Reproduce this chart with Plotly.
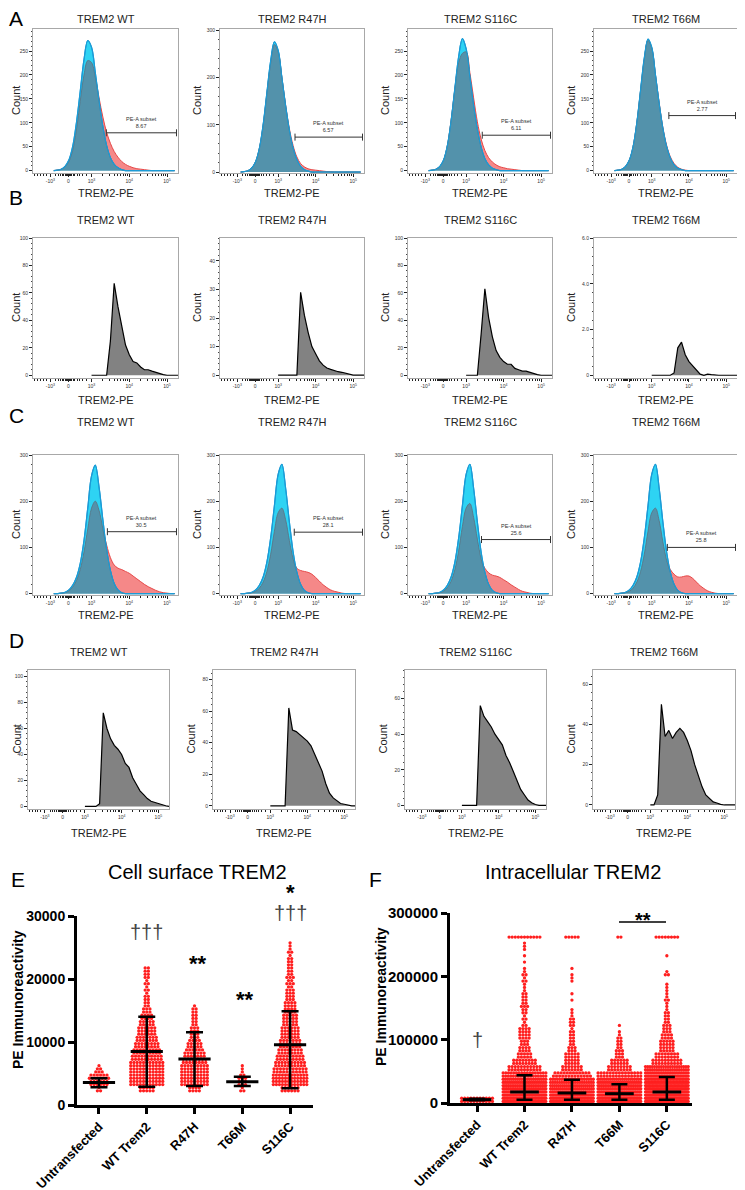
import math
import plotly.graph_objects as go

W, H = 745, 1190
OFF = 8  # the page body margin places the figure 8 px right and down
FONT = "Liberation Sans, Arial, sans-serif"

titles = ["TREM2 WT", "TREM2 R47H", "TREM2 S116C", "TREM2 T66M"]

# Flow histograms: x is in biexponential display units (10^3 -> 1, 10^4 -> 2, 10^5 -> 3)
flow_tickvals = [-0.09, 0.39, 1, 2, 3]
flow_ticktext = ["-10<sup>3</sup>", "0", "10<sup>3</sup>", "10<sup>4</sup>", "10<sup>5</sup>"]

grid_ac = [0.0, 0.1, 0.2, 0.3, 0.4, 0.5, 0.6, 0.7, 0.8, 0.9, 1.0, 1.1, 1.2, 1.3, 1.4, 1.5, 1.6,
           1.7, 1.8, 1.9, 2.0, 2.1, 2.2, 2.3, 2.4, 2.5, 2.6, 2.7, 2.8, 2.9, 3.0, 3.1, 3.2]

# A: cell surface staining (cyan = untransfected, red = transfected)
a_wt_blue = [0, 1, 3, 9, 22, 50, 100, 165, 232, 272, 258, 205, 145, 92, 52, 27, 13, 6, 2, 0,
             0, 0, 0, 0, 0, 0, 0, 0, 0, 0, 0, 0, 0]
a_wt_red = [0, 1, 3, 8, 19, 42, 85, 145, 200, 230, 226, 195, 152, 112, 80, 57, 40, 28, 19, 13,
            9, 6, 4, 3, 2, 1, 0, 0, 0, 0, 0, 0, 0]
a_r47h_blue = [0, 1, 3, 9, 22, 50, 100, 168, 235, 276, 258, 200, 140, 88, 50, 26, 12, 5, 2, 0,
               0, 0, 0, 0, 0, 0, 0, 0, 0, 0, 0, 0, 0]
a_r47h_red = [0, 1, 3, 9, 22, 50, 98, 165, 230, 270, 255, 200, 142, 92, 56, 32, 18, 11, 7, 5,
              4, 3, 2, 1, 1, 0, 0, 0, 0, 0, 0, 0, 0]
a_s116c_blue = [0, 1, 3, 9, 22, 52, 104, 172, 238, 276, 255, 196, 136, 86, 49, 25, 12, 5, 2, 0,
                0, 0, 0, 0, 0, 0, 0, 0, 0, 0, 0, 0, 0]
a_s116c_red = [0, 1, 3, 9, 22, 52, 105, 170, 225, 245, 248, 205, 152, 102, 66, 42, 27, 18, 12, 8,
               6, 4, 3, 2, 1, 0, 0, 0, 0, 0, 0, 0, 0]
a_t66m_blue = [0, 1, 3, 9, 22, 50, 100, 168, 235, 275, 258, 200, 140, 88, 50, 26, 12, 5, 2, 0,
               0, 0, 0, 0, 0, 0, 0, 0, 0, 0, 0, 0, 0]
a_t66m_red = [0, 1, 3, 9, 22, 50, 100, 166, 232, 272, 256, 200, 142, 90, 53, 29, 15, 7, 3, 1,
              0, 0, 0, 0, 0, 0, 0, 0, 0, 0, 0, 0, 0]

# C: intracellular staining
c_wt_blue = [0, 0, 1, 3, 8, 18, 35, 65, 115, 185, 255, 278, 230, 160, 95, 50, 22, 8, 2, 0,
             0, 0, 0, 0, 0, 0, 0, 0, 0, 0, 0, 0, 0]
c_wt_red = [0, 0, 1, 2, 6, 14, 28, 52, 90, 140, 185, 200, 180, 140, 105, 78, 62, 55, 52, 48,
            44, 38, 32, 26, 20, 15, 11, 7, 4, 2, 1, 0, 0]
c_r47h_blue = [0, 0, 1, 3, 8, 18, 36, 68, 120, 190, 258, 280, 228, 155, 90, 46, 20, 7, 2, 0,
               0, 0, 0, 0, 0, 0, 0, 0, 0, 0, 0, 0, 0]
c_r47h_red = [0, 0, 1, 2, 5, 12, 25, 48, 85, 135, 175, 185, 160, 115, 75, 55, 50, 48, 46, 42,
              35, 27, 19, 13, 8, 5, 3, 1, 0, 0, 0, 0, 0]
c_s116c_blue = [0, 0, 1, 3, 8, 18, 36, 68, 120, 190, 258, 280, 228, 155, 90, 46, 20, 7, 2, 0,
                0, 0, 0, 0, 0, 0, 0, 0, 0, 0, 0, 0, 0]
c_s116c_red = [0, 0, 1, 2, 5, 13, 27, 52, 92, 145, 185, 195, 165, 118, 75, 55, 45, 40, 38, 35,
               30, 25, 19, 14, 9, 5, 3, 1, 0, 0, 0, 0, 0]
c_t66m_blue = [0, 0, 1, 3, 8, 18, 36, 68, 120, 190, 258, 280, 228, 155, 90, 46, 20, 7, 2, 0,
               0, 0, 0, 0, 0, 0, 0, 0, 0, 0, 0, 0, 0]
c_t66m_red = [0, 0, 1, 2, 5, 12, 25, 48, 85, 135, 175, 185, 158, 112, 72, 52, 42, 36, 36, 38,
              38, 33, 25, 17, 11, 6, 3, 1, 0, 0, 0, 0, 0]

# PE-A subset gates
a_gate_start = [1.39, 1.45, 1.43, 1.46]
a_gate_y = [79, 74, 74, 115]
a_gate_pct = ["8.67", "6.57", "6.11", "2.77"]
c_gate_start = [1.42, 1.43, 1.41, 1.42]
c_gate_y = [134, 133, 117, 100]
c_gate_pct = ["30.5", "28.1", "25.6", "25.8"]
gate_end = 3.25

# B / D: gated PE+ populations
grid_bd = [1.0, 1.1, 1.2, 1.3, 1.4, 1.5, 1.6, 1.7, 1.8, 1.9, 2.0, 2.1, 2.2, 2.3, 2.4, 2.5,
           2.6, 2.7, 2.8, 2.9, 3.0, 3.1, 3.2, 3.3]
b_wt = [0, 0, 0, 0, 0, 25, 67, 50, 35, 22, 15, 10, 9, 6, 4, 4, 3, 2, 1, 0.5, 0, 0, 0, 0]
b_r47h = [0, 0, 0, 0, 0, 0, 29, 21, 15, 10, 7.5, 5, 3.5, 2.5, 2, 1.5, 1.2, 1, 0.6, 0.3, 0, 0, 0, 0]
b_s116c = [0, 0, 0, 0, 30, 63, 42, 28, 18, 13, 10, 8, 8, 5, 4, 3, 3, 2, 1, 0.5, 0, 0, 0, 0]
b_t66m = [0, 0, 0, 0, 0, 0, 0.1, 1.2, 1.45, 0.9, 0.6, 0.4, 0.2, 0.05, 0, 0.05, 0.03, 0, 0, 0, 0, 0, 0, 0]
d_wt = [0, 0, 0, 0, 2, 72, 60, 52, 47, 44, 40, 33, 30, 22, 17, 12, 9, 6, 4, 3, 2, 1, 0.5, 0]
d_r47h = [0, 0, 0, 0, 0, 62, 48, 47, 45, 43, 41, 38, 33, 28, 22, 14, 8, 5, 3, 1.5, 1, 0.3, 0, 0]
d_s116c = [0, 0, 0, 0, 0, 56, 50, 47, 44, 40, 37, 34, 28, 24, 19, 14, 9, 6, 3, 1.5, 0.5, 0, 0, 0]
d_t66m = [0, 0, 5, 50, 34, 37, 33, 36, 38, 36, 32, 27, 20, 14, 9, 5, 3, 1.5, 1, 0.3, 0, 0, 0, 0]

# Dot plots (E, F): counts of cells per intensity bin, per group
groups = ["Untransfected", "WT Trem2", "R47H", "T66M", "S116C"]

e_bin_start, e_bin_step = 2000, 1000
e_untransfected = [3, 12, 13, 5, 1]
e_wt = [10, 22, 22, 22, 22, 20, 18, 16, 14, 12, 11, 9, 7, 5, 4, 3, 3, 3, 4, 4]
e_r47h = [8, 18, 18, 18, 17, 15, 13, 10, 7, 6, 5, 4, 4, 3]
e_t66m = [3, 6, 5, 2, 1]
e_s116c = [12, 24, 24, 22, 20, 18, 16, 14, 13, 12, 11, 10, 9, 8, 7, 6, 5, 5, 5, 4, 4, 3, 3, 2]
e_median = [3560, 8500, 7300, 3700, 9570]
e_low = [2800, 2900, 3030, 3000, 2660]
e_high = [4250, 14000, 11550, 4500, 14900]

f_bin_start, f_bin_step = 0, 10000
f_untransfected = [22]
f_wt = [60, 60, 50, 45, 35, 22, 16, 10, 8, 6, 8, 8, 3, 3, 4, 5, 4, 3, 2, 3, 3, 1, 1, 1, 2, 1]
f_r47h = [60, 55, 45, 40, 25, 14, 10, 10, 6, 4, 4, 3, 4, 3, 2, 0, 1, 1, 0, 2, 1, 1]
f_t66m = [60, 55, 50, 45, 30, 16, 12, 6, 5, 4, 3, 1, 1]
f_s116c = [70, 70, 65, 60, 55, 40, 20, 16, 10, 10, 8, 6, 5, 4, 3, 2, 3, 2, 2, 0, 3, 0, 0, 1]
f_saturation = 262000
f_saturated = [0, 11, 5, 2, 8]
f_median = [5300, 17400, 15800, 14700, 17400]
f_low = [4200, 5000, 5000, 5000, 5000]
f_high = [6800, 43700, 36800, 29500, 41000]

# ---------------------------------------------------------------- helpers
CYAN_FILL, BLUE_LINE = "#2ed3f3", "#1b9bd6"
RED_FILL, RED_LINE = "#f58888", "#e64848"
MIX_FILL, MIX_LINE = "#5392ab", "#5d6f7e"
GRAY_FILL = "#828282"
DOT_RED = "#ff1f1f"

fig = go.Figure()
layout = {}
annotations = []
shapes = []
axis_count = [0]


def px(x):
    return (x - OFF) / W


def py(y):
    return 1 - (y - OFF) / H


def add_axes(left, right, top, bottom, xopts, yopts):
    axis_count[0] += 1
    sfx = "" if axis_count[0] == 1 else str(axis_count[0])
    layout["xaxis" + sfx] = dict(domain=[px(left), px(right)], anchor="y" + sfx, **xopts)
    layout["yaxis" + sfx] = dict(domain=[py(bottom), py(top)], anchor="x" + sfx, **yopts)
    return "x" + sfx, "y" + sfx


def label(x, y, s, size, color="#111", **kw):
    annotations.append(dict(x=px(x), y=py(y), xref="paper", yref="paper", text=s,
                            xanchor="center", yanchor="middle", showarrow=False,
                            font=dict(family=FONT, size=size, color=color), **kw))


flow_minor = [-0.5, -0.42, -0.35, -0.28, -0.2, 0.05, 0.12, 0.18, 0.23, 0.27, 0.3, 0.32, 0.34,
              0.36, 0.42, 0.44, 0.47, 0.51, 0.56, 0.62, 0.69, 0.77, 0.87]
flow_minor += [d + math.log10(k) for d in (1, 2) for k in range(2, 10)]

flow_x = dict(range=[-0.55, 3.29], tickmode="array", tickvals=flow_tickvals, ticktext=flow_ticktext,
              ticks="outside", ticklen=3, tickwidth=1, tickcolor="#222",
              minor=dict(tickmode="array", tickvals=flow_minor, ticks="outside", ticklen=2,
                         tickcolor="#222", tickwidth=0.8),
              tickfont=dict(family=FONT, size=5, color="#333"), showline=True, mirror=True,
              linecolor="#a8a8a8", linewidth=1, showgrid=False, zeroline=False)


def flow_y(yrange, dtick, ticktext=None):
    d = dict(range=yrange, tickmode="linear", tick0=0, dtick=dtick, ticks="outside", ticklen=3,
             tickwidth=1, tickcolor="#222",
             minor=dict(dtick=dtick / 5, ticks="outside", ticklen=1.5, tickcolor="#444", tickwidth=0.7),
             tickfont=dict(family=FONT, size=5, color="#333"), showline=True, mirror=True,
             linecolor="#a8a8a8", linewidth=1, showgrid=False, zeroline=False)
    if ticktext:
        d.update(tickmode="array", tickvals=[0, dtick, 2 * dtick, 3 * dtick], ticktext=ticktext)
    return d


def overlay(xa, ya, blue, red):
    both = [min(b, r) for b, r in zip(blue, red)]
    common = dict(x=grid_ac, mode="lines", fill="tozeroy", xaxis=xa, yaxis=ya, hoverinfo="skip")
    fig.add_trace(go.Scatter(y=red, fillcolor=RED_FILL,
                             line=dict(color=RED_LINE, width=1, shape="spline"), **common))
    fig.add_trace(go.Scatter(y=blue, fillcolor=CYAN_FILL,
                             line=dict(color=BLUE_LINE, width=1.2, shape="spline"), **common))
    fig.add_trace(go.Scatter(y=both, fillcolor=MIX_FILL,
                             line=dict(color=MIX_LINE, width=0.8, shape="spline"), **common))
    fig.add_trace(go.Scatter(x=grid_ac, y=blue, mode="lines", xaxis=xa, yaxis=ya, hoverinfo="skip",
                             line=dict(color=BLUE_LINE, width=1.1, shape="spline")))


def gate(xa, ya, start, y, pct):
    fig.add_trace(go.Scatter(x=[start, gate_end], y=[y, y], mode="lines+markers", xaxis=xa, yaxis=ya,
                             line=dict(color="#333", width=1),
                             marker=dict(symbol="line-ns", size=5, line=dict(color="#333", width=1)),
                             hoverinfo="skip"))
    annotations.append(dict(x=(start + gate_end) / 2, y=y, xref=xa, yref=ya, xanchor="center",
                            yanchor="bottom", yshift=2, text="PE-A subset<br>" + pct, showarrow=False,
                            font=dict(family=FONT, size=5.5, color="#333")))


def gray_hist(xa, ya, vals):
    fig.add_trace(go.Scatter(x=grid_bd, y=vals, mode="lines", fill="tozeroy", fillcolor=GRAY_FILL,
                             line=dict(color="black", width=1.2), xaxis=xa, yaxis=ya, hoverinfo="skip"))


# ---------------------------------------------------------------- histogram panels
cols_abc = [(33, 178), (220, 364), (408, 552), (594, 737)]
cols_d = [(28, 169), (213, 355), (405, 546), (593, 735)]
rows = [(29, 173), (238, 378), (455, 595), (670, 809)]
title_y = [19, 220, 422, 652]
xtitle_y = [193, 400, 615, 833]
letters = [("A", 19), ("B", 198), ("C", 415), ("D", 640)]

a_blue = [a_wt_blue, a_r47h_blue, a_s116c_blue, a_t66m_blue]
a_red = [a_wt_red, a_r47h_red, a_s116c_red, a_t66m_red]
c_blue = [c_wt_blue, c_r47h_blue, c_s116c_blue, c_t66m_blue]
c_red = [c_wt_red, c_r47h_red, c_s116c_red, c_t66m_red]
b_all = [b_wt, b_r47h, b_s116c, b_t66m]
d_all = [d_wt, d_r47h, d_s116c, d_t66m]

y_settings = [
    [([-5, 296], 50, None), ([-2, 303], 100, None), ([-5, 296], 50, None), ([-5, 296], 50, None)],
    [([-2, 100], 20, None), ([-1, 48], 10, None), ([-2, 100], 20, None),
     ([-0.12, 6.0], 2, ["0", "2.0", "4.0", "6.0"])],
    [([-3, 300], 100, None)] * 4,
    [([-2, 105], 20, None), ([-2, 86], 20, None), ([-2, 76], 20, None), ([-2, 67], 20, None)],
]

for r in range(4):
    cols = cols_d if r == 3 else cols_abc
    top, bottom = rows[r]
    label(16, letters[r][1], letters[r][0], 21, color="black")
    for c in range(4):
        left, right = cols[c]
        yr, dt, tt = y_settings[r][c]
        xa, ya = add_axes(left, right, top, bottom, flow_x, flow_y(yr, dt, tt))
        if r == 0:
            overlay(xa, ya, a_blue[c], a_red[c])
            gate(xa, ya, a_gate_start[c], a_gate_y[c], a_gate_pct[c])
        elif r == 2:
            overlay(xa, ya, c_blue[c], c_red[c])
            gate(xa, ya, c_gate_start[c], c_gate_y[c], c_gate_pct[c])
        elif r == 1:
            gray_hist(xa, ya, b_all[c])
        else:
            gray_hist(xa, ya, d_all[c])
        mid = (left + right) / 2
        label(mid, title_y[r], titles[c], 11, color="#222")
        label(mid, xtitle_y[r], "TREM2-PE", 11, color="#222")
        label(max(left - 23, 16), (top + bottom) / 2, "Count", 11, color="#222", textangle=-90)


# ---------------------------------------------------------------- dot plots
def dot_row(center, y, k, dot, max_w, xs, ys):
    dx = dot if k < 2 else min(dot, max_w / (k - 1))
    for j in range(k):
        xs.append(center + (j - (k - 1) / 2) * dx)
        ys.append(y)


def swarm(center, counts, start, step, dot, max_w):
    xs, ys = [], []
    for i, n in enumerate(counts):
        lo = start + i * step
        for rr, k in enumerate((n - n // 2, n // 2)):
            if k:
                dot_row(center, lo + step * (0.25 + 0.5 * rr), k, dot, max_w, xs, ys)
    return xs, ys


def dot_axes(xrange, yrange, tickvals, tick_size):
    xo = dict(range=xrange, tickmode="array", tickvals=list(range(len(groups))), ticktext=groups,
              tickangle=-45, tickfont=dict(family=FONT, size=13, color="black", weight="bold"),
              ticks="outside", ticklen=6, tickwidth=2.5, tickcolor="black", showline=True,
              linewidth=3, linecolor="black", showgrid=False, zeroline=False)
    yo = dict(range=yrange, tickmode="array", tickvals=tickvals, ticktext=[str(v) for v in tickvals],
              tickfont=dict(family=FONT, size=tick_size, color="black", weight="bold"),
              ticks="outside", ticklen=6, tickwidth=2.5, tickcolor="black", showline=True,
              linewidth=3, linecolor="black", showgrid=False, zeroline=False)
    return xo, yo


def median_bars(xa, ya, med, lo, hi, size, cap):
    fig.add_trace(go.Scatter(
        x=list(range(len(groups))), y=med, mode="markers", xaxis=xa, yaxis=ya, hoverinfo="skip",
        cliponaxis=False,
        marker=dict(symbol="line-ew", size=size, color="black", line=dict(color="black", width=3)),
        error_y=dict(type="data", symmetric=False, array=[h - m for h, m in zip(hi, med)],
                     arrayminus=[m - l for m, l in zip(med, lo)], thickness=2.5, width=cap,
                     color="black")))


# E: cell surface
xo, yo = dot_axes([-0.46, 4.48], [0, 30000], [0, 10000, 20000, 30000], 14)
xa, ya = add_axes(77, 313, 916, 1105, xo, yo)
e_counts = [e_untransfected, e_wt, e_r47h, e_t66m, e_s116c]
ex, ey = [], []
for g, counts in enumerate(e_counts):
    xs, ys = swarm(g, counts, e_bin_start, e_bin_step, 0.067, 0.70)
    ex += xs
    ey += ys
fig.add_trace(go.Scatter(x=ex, y=ey, mode="markers", xaxis=xa, yaxis=ya, cliponaxis=False,
                         marker=dict(size=3.3, color=DOT_RED), hoverinfo="skip"))
median_bars(xa, ya, e_median, e_low, e_high, 23, 8.5)

# F: intracellular
xo, yo = dot_axes([-0.57, 4.53], [0, 300000], [0, 100000, 200000, 300000], 15)
xa, ya = add_axes(450, 692, 913, 1103, xo, yo)
f_counts = [f_untransfected, f_wt, f_r47h, f_t66m, f_s116c]
fx, fy = [], []
for g, counts in enumerate(f_counts):
    xs, ys = swarm(g, counts, f_bin_start, f_bin_step, 0.065, 0.90)
    fx += xs
    fy += ys
    dot_row(g, f_saturation, f_saturated[g], 0.065, 0.90, fx, fy)
fig.add_trace(go.Scatter(x=fx, y=fy, mode="markers", xaxis=xa, yaxis=ya, cliponaxis=False,
                         marker=dict(size=3.3, color=DOT_RED), hoverinfo="skip"))
median_bars(xa, ya, f_median, f_low, f_high, 20.5, 8)

# titles, letters, axis titles, significance marks
label(18, 880, "E", 21, color="black")
label(375, 880, "F", 21, color="black")
label(197, 872, "Cell surface TREM2", 20, color="black")
label(573, 872, "Intracellular TREM2", 20, color="black")
label(18, 1000, "<b>PE Immunoreactivity</b>", 14, color="black", textangle=-90)
label(381, 997, "<b>PE Immunoreactivity</b>", 14, color="black", textangle=-90)

label(146, 932, "†††", 20, color="#444")
label(198, 963, "<b>**</b>", 22, color="black")
label(245, 999, "<b>**</b>", 22, color="black")
label(290, 892, "<b>*</b>", 22, color="black")
label(290, 913, "†††", 20, color="#444")
label(477, 1040, "†", 20, color="#444")
label(643, 920, "<b>**</b>", 20, color="black")
shapes.append(dict(type="line", xref="paper", yref="paper", x0=px(619), x1=px(666),
                   y0=py(922), y1=py(922), line=dict(color="black", width=1.5)))

fig.update_layout(width=W, height=H, margin=dict(l=0, r=0, t=0, b=0, autoexpand=False),
                  paper_bgcolor="white", plot_bgcolor="white", showlegend=False,
                  font=dict(family=FONT), annotations=annotations, shapes=shapes, **layout)

fig.write_html("out.html")
